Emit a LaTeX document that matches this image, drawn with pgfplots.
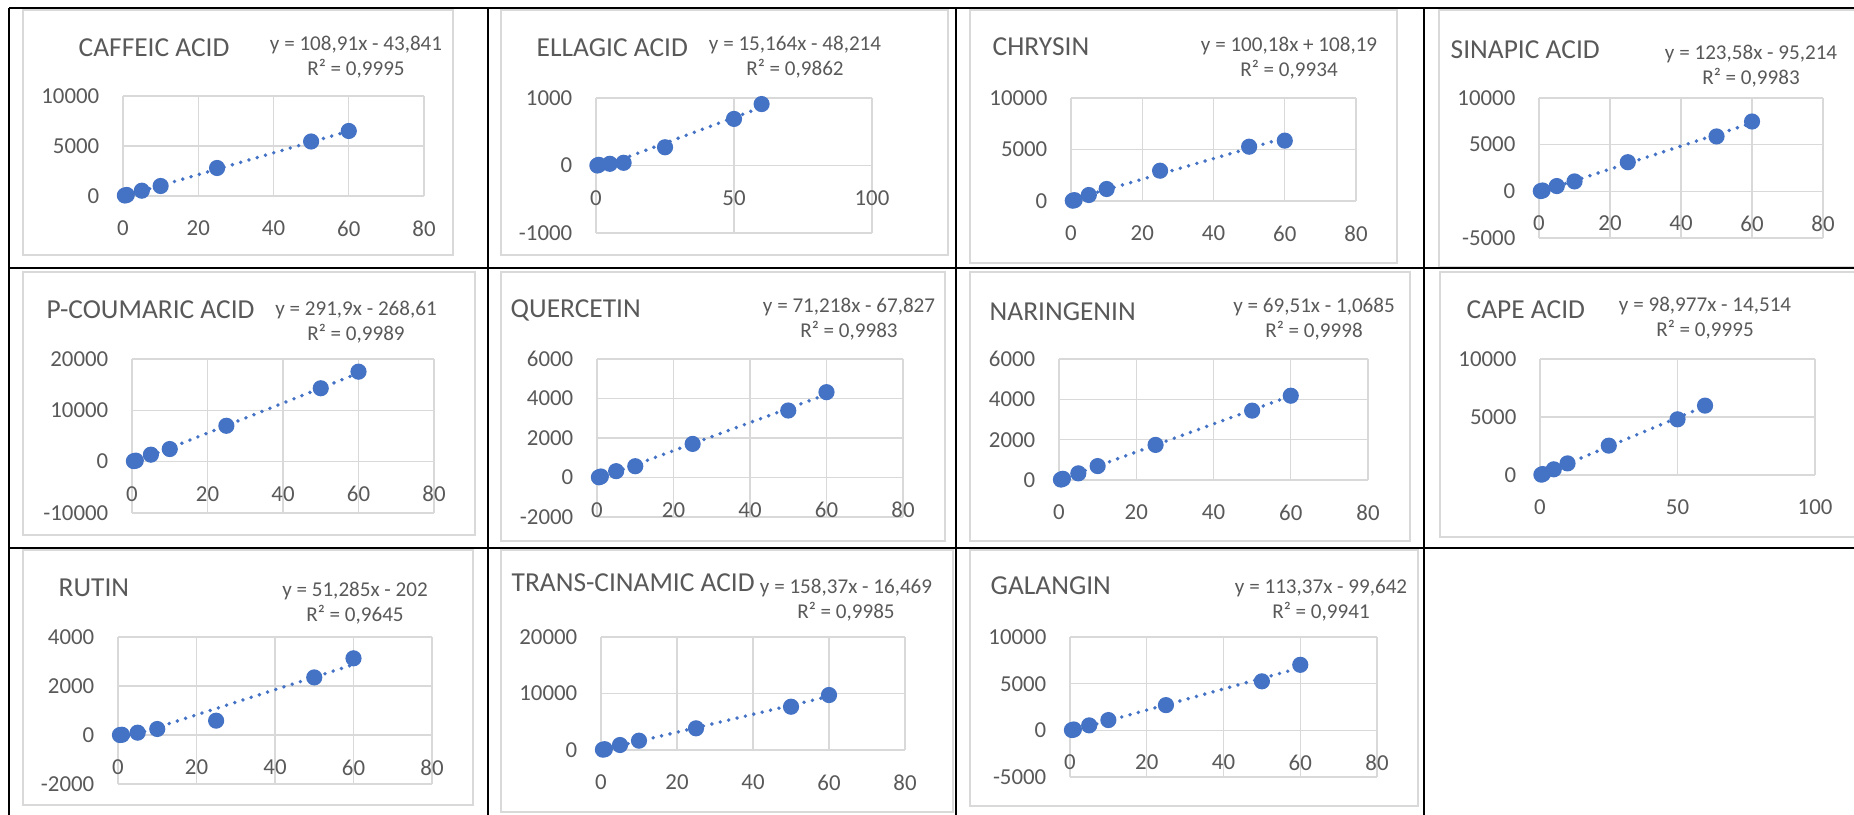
\documentclass[border=0pt]{standalone}
\usepackage{fontspec}
\setmainfont{Carlito}
\usepackage{pgfplots}
\pgfplotsset{compat=1.18}

\definecolor{exblue}{HTML}{4472C4}
\definecolor{gridc}{HTML}{D9D9D9}
\definecolor{txt}{HTML}{595959}
\newcommand\titlef{\fontsize{7.8}{9}\selectfont}
\newcommand\eqf{\fontsize{6}{7}\selectfont}

\pgfplotsset{
  cal/.style={
    scale only axis, anchor=south west, clip=false,
    axis x line*=middle, axis y line*=left,
    hide obscured x ticks=false, hide obscured y ticks=false,
    axis line style={draw=gridc, line width=0.4pt},
    grid=major, grid style={draw=gridc, line width=0.4pt},
    major tick length=0pt, scaled ticks=false,
    tick label style={font=\fontsize{6.5}{7}\selectfont, text=txt, inner sep=0pt},
    xticklabel style={anchor=north, yshift=-2.4mm},
    yticklabel style={anchor=east, xshift=-2.3mm},
    xmin=0, xmax=80, xtick={0,20,40,60,80},
    /pgf/number format/1000 sep={},
    /pgf/number format/assume math mode=true,
  },
  pts/.style={only marks, mark=*, mark size=2.1pt, color=exblue, mark options={draw=exblue, fill=exblue}},
  trend/.style={no marks, color=exblue, line width=1.1pt, line cap=round, dash pattern=on 0pt off 2.45pt},
}

% title, title baseline, eq centre x, eq baseline 1, eq text, eq baseline 2, R2 text
\newcommand\lbl[7]{%
  \node[anchor=base west, inner sep=0pt, font=\titlef, text=txt] at (#1,#2) {#3};%
  \node[anchor=base, inner sep=0pt, font=\eqf, text=txt] at (#4,#5) {#6};%
  \node[anchor=base, inner sep=0pt, font=\eqf, text=txt] at (#4,#5+25) {#7};%
}

\begin{document}
\begin{tikzpicture}
\useasboundingbox (0,0) rectangle (185.4mm,-81.5mm);

\begin{scope}[x=0.1mm, y=-0.1mm]
% chart frames
\draw[gridc, line width=0.35pt] (23,10) rectangle (453,255);
\draw[gridc, line width=0.35pt] (501,10) rectangle (948,255);
\draw[gridc, line width=0.35pt] (970,10) rectangle (1397,263);
\draw[gridc, line width=0.35pt] (1854,10) -- (1439,10) -- (1439,267) -- (1854,267);
\draw[gridc, line width=0.35pt] (23,272) rectangle (475,535);
\draw[gridc, line width=0.35pt] (501,272) rectangle (945,541);
\draw[gridc, line width=0.35pt] (970,272) rectangle (1410,541);
\draw[gridc, line width=0.35pt] (1854,272) -- (1440,272) -- (1440,537) -- (1854,537);
\draw[gridc, line width=0.35pt] (23,550) rectangle (473,805);
\draw[gridc, line width=0.35pt] (501,550) rectangle (953,812);
\draw[gridc, line width=0.35pt] (970,550) rectangle (1418,806);
% table rules
\draw[black, line width=0.27mm] (9,8) -- (1854,8);
\draw[black, line width=0.27mm] (9,268) -- (1854,268);
\draw[black, line width=0.27mm] (9,548) -- (1854,548);
\draw[black, line width=0.27mm] (9,8) -- (9,815);
\draw[black, line width=0.27mm] (488,8) -- (488,815);
\draw[black, line width=0.27mm] (956,8) -- (956,815);
\draw[black, line width=0.27mm] (1424,8) -- (1424,815);
% titles and trendline labels
\lbl{78}{57}{CAFFEIC ACID}{356}{51}{y = 108,91x - 43,841}{R² = 0,9995}
\lbl{536}{57}{ELLAGIC ACID}{795}{51}{y = 15,164x - 48,214}{R² = 0,9862}
\lbl{992}{56}{CHRYSIN}{1289}{52}{y = 100,18x + 108,19}{R² = 0,9934}
\lbl{1450}{59}{SINAPIC ACID}{1751}{60}{y = 123,58x - 95,214}{R² = 0,9983}
\lbl{46}{319}{P-COUMARIC ACID}{356}{316}{y = 291,9x - 268,61}{R² = 0,9989}
\lbl{510}{318}{QUERCETIN}{849}{313}{y = 71,218x - 67,827}{R² = 0,9983}
\lbl{989}{321}{NARINGENIN}{1314}{313}{y = 69,51x - 1,0685}{R² = 0,9998}
\lbl{1466}{319}{CAPE ACID}{1705}{312}{y = 98,977x - 14,514}{R² = 0,9995}
\lbl{58}{596}{RUTIN}{355}{596}{y = 51,285x - 202}{R² = 0,9645}
\lbl{511}{591}{TRANS-CINAMIC ACID}{846}{593}{y = 158,37x - 16,469}{R² = 0,9985}
\lbl{990}{594}{GALANGIN}{1321}{593}{y = 113,37x - 99,642}{R² = 0,9941}
\end{scope}

% CAFFEIC ACID
\begin{axis}[cal, at={(12.3mm,-19.6mm)}, width=30.1mm, height=10.0mm,
  ymin=0, ymax=10000, ytick={0,5000,10000}]
\addplot[trend] coordinates {(0.5,10.6) (60,6490.8)};
\addplot[pts] coordinates {(0.5,50) (1,100) (5,530) (10,1000) (25,2800) (50,5450) (60,6500)};
\end{axis}

% ELLAGIC ACID
\begin{axis}[cal, at={(59.6mm,-23.3mm)}, width=27.6mm, height=13.5mm,
  xmax=100, xtick={0,50,100}, ymin=-1000, ymax=1000, ytick={-1000,0,1000}]
\addplot[trend] coordinates {(0.5,-40.6) (60,861.6)};
\addplot[pts] coordinates {(0.5,0) (1,10) (5,25) (10,40) (25,270) (50,690) (60,910)};
\end{axis}

% CHRYSIN
\begin{axis}[cal, at={(107.1mm,-20.1mm)}, width=28.5mm, height=10.3mm,
  ymin=0, ymax=10000, ytick={0,5000,10000}]
\addplot[trend] coordinates {(0.5,158.3) (60,6119)};
\addplot[pts] coordinates {(0.5,30) (1,80) (5,580) (10,1165) (25,2940) (50,5270) (60,5860)};
\end{axis}

% SINAPIC ACID
\begin{axis}[cal, at={(153.9mm,-23.8mm)}, width=28.4mm, height=14.0mm,
  ymin=-5000, ymax=10000, ytick={-5000,0,5000,10000}]
\addplot[trend] coordinates {(0.5,-33.4) (60,7319.6)};
\addplot[pts] coordinates {(0.5,30) (1,90) (5,565) (10,1060) (25,3120) (50,5880) (60,7480)};
\end{axis}

% P-COUMARIC ACID
\begin{axis}[cal, at={(13.2mm,-51.3mm)}, width=30.2mm, height=15.4mm,
  ymin=-10000, ymax=20000, ytick={-10000,0,10000,20000}]
\addplot[trend] coordinates {(0.5,-122.7) (60,17245.4)};
\addplot[pts] coordinates {(0.5,100) (1,200) (5,1360) (10,2460) (25,6990) (50,14300) (60,17530)};
\end{axis}

% QUERCETIN
\begin{axis}[cal, at={(59.7mm,-51.7mm)}, width=30.6mm, height=15.8mm,
  ymin=-2000, ymax=6000, ytick={-2000,0,2000,4000,6000}]
\addplot[trend] coordinates {(0.5,-32.2) (60,4205.3)};
\addplot[pts] coordinates {(0.5,10) (1,50) (5,320) (10,570) (25,1700) (50,3390) (60,4320)};
\end{axis}

% NARINGENIN
\begin{axis}[cal, at={(105.9mm,-48.0mm)}, width=30.9mm, height=12.1mm,
  ymin=0, ymax=6000, ytick={0,2000,4000,6000}]
\addplot[trend] coordinates {(0.5,33.7) (60,4169.5)};
\addplot[pts] coordinates {(0.5,20) (1,60) (5,330) (10,690) (25,1740) (50,3440) (60,4180)};
\end{axis}

% CAPE ACID
\begin{axis}[cal, at={(154.0mm,-47.5mm)}, width=27.5mm, height=11.6mm,
  xmax=100, xtick={0,50,100}, ymin=0, ymax=10000, ytick={0,5000,10000}]
\addplot[trend] coordinates {(0.5,35) (60,5924.1)};
\addplot[pts] coordinates {(0.5,30) (1,80) (5,490) (10,1000) (25,2530) (50,4800) (60,5980)};
\end{axis}

% RUTIN
\begin{axis}[cal, at={(11.8mm,-78.4mm)}, width=31.4mm, height=14.7mm,
  ymin=-2000, ymax=4000, ytick={-2000,0,2000,4000}]
\addplot[trend] coordinates {(0.5,-176.4) (60,2875.1)};
\addplot[pts] coordinates {(0.5,0) (1,10) (5,95) (10,245) (25,585) (50,2350) (60,3130)};
\end{axis}

% TRANS-CINAMIC ACID
\begin{axis}[cal, at={(60.1mm,-75.0mm)}, width=30.4mm, height=11.3mm,
  ymin=0, ymax=20000, ytick={0,10000,20000}]
\addplot[trend] coordinates {(0.5,62.7) (60,9485.7)};
\addplot[pts] coordinates {(0.5,60) (1,140) (5,885) (10,1650) (25,3840) (50,7660) (60,9730)};
\end{axis}

% GALANGIN
\begin{axis}[cal, at={(107.0mm,-77.7mm)}, width=30.7mm, height=14.0mm,
  ymin=-5000, ymax=10000, ytick={-5000,0,5000,10000}]
\addplot[trend] coordinates {(0.5,-43) (60,6702.6)};
\addplot[pts] coordinates {(0.5,30) (1,90) (5,530) (10,1100) (25,2700) (50,5250) (60,7020)};
\end{axis}
\end{tikzpicture}
\end{document}
